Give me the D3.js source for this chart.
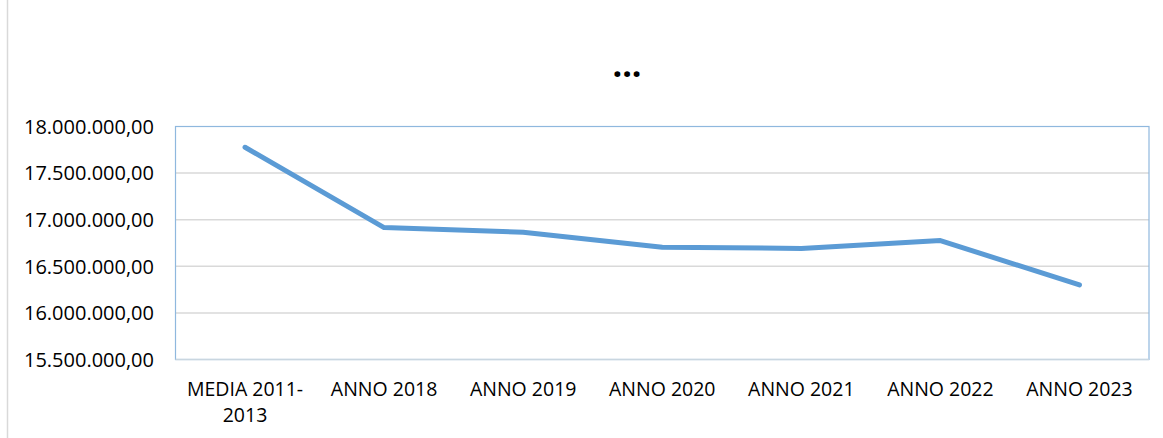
<!DOCTYPE html>
<html>
<head>
<meta charset="utf-8">
<script src="https://cdn.jsdelivr.net/npm/d3@7"></script>
<style>
  body { margin: 0; background: #fff; }
  text { font-family: "Open Sans", "Liberation Sans", sans-serif; fill: #000; }
</style>
</head>
<body>
<div id="chart"></div>
<script>
// chart data
const categories = ["MEDIA 2011-2013", "ANNO 2018", "ANNO 2019", "ANNO 2020", "ANNO 2021", "ANNO 2022", "ANNO 2023"];
const values = [17777000, 16915000, 16865000, 16705000, 16692000, 16776000, 16300000];
const yTicks = [15500000, 16000000, 16500000, 17000000, 17500000, 18000000];

const width = 1163, height = 438;
const margin = { top: 126.5, right: 14, bottom: 78.5, left: 175.5 };

const svg = d3.select("#chart")
    .append("svg")
    .attr("width", width)
    .attr("height", height);

// thin gray line at far left
svg.append("line")
    .attr("x1", 7.5).attr("x2", 7.5)
    .attr("y1", 0).attr("y2", height)
    .attr("stroke", "#d9d9d9").attr("stroke-width", 1.5);

const x = d3.scaleBand()
    .domain(categories)
    .range([margin.left, width - margin.right]);

const y = d3.scaleLinear()
    .domain([15500000, 18000000])
    .range([height - margin.bottom, margin.top]);

const fmt = v => d3.format(",.2f")(v).replace(/,/g, "#").replace(".", ",").replace(/#/g, ".");

// gridlines
svg.append("g")
    .selectAll("line")
    .data(yTicks.slice(1, -1))
    .join("line")
    .attr("x1", margin.left).attr("x2", width - margin.right)
    .attr("y1", d => y(d)).attr("y2", d => y(d))
    .attr("stroke", "#d9d9d9").attr("stroke-width", 1.5);

// plot border
svg.append("rect")
    .attr("x", margin.left).attr("y", margin.top)
    .attr("width", width - margin.left - margin.right)
    .attr("height", height - margin.top - margin.bottom)
    .attr("fill", "none")
    .attr("stroke", "#8fb8de").attr("stroke-width", 1.2);

svg.append("line")
    .attr("x1", margin.left).attr("x2", width - margin.right)
    .attr("y1", y(15500000)).attr("y2", y(15500000))
    .attr("stroke", "#c9d6e0").attr("stroke-width", 1.5);

// y tick labels
svg.append("g")
    .selectAll("text")
    .data(yTicks)
    .join("text")
    .attr("x", 154)
    .attr("y", d => y(d))
    .attr("dy", "0.36em")
    .attr("text-anchor", "end")
    .style("font-size", "20px")
    .text(fmt);

// x labels
const xl = svg.append("g")
    .selectAll("text")
    .data(categories)
    .join("text")
    .attr("x", d => x(d) + x.bandwidth() / 2)
    .attr("y", 396)
    .attr("text-anchor", "middle")
    .style("font-size", "19.5px");

xl.each(function (d) {
  const t = d3.select(this);
  if (d.startsWith("MEDIA")) {
    t.append("tspan").attr("x", x(d) + x.bandwidth() / 2).text("MEDIA 2011-");
    t.append("tspan").attr("x", x(d) + x.bandwidth() / 2).attr("dy", 26).text("2013");
  } else {
    t.text(d);
  }
});

// line
const line = d3.line()
    .x((d, i) => x(categories[i]) + x.bandwidth() / 2)
    .y(d => y(d));

svg.append("path")
    .datum(values)
    .attr("d", line)
    .attr("fill", "none")
    .attr("stroke", "#5b9bd5")
    .attr("stroke-width", 5)
    .attr("stroke-linecap", "round")
    .attr("stroke-linejoin", "round");

// title
svg.append("text")
    .attr("x", 627)
    .attr("y", 77)
    .attr("text-anchor", "middle")
    .style("font-size", "34px")
    .style("font-weight", "bold")
    .text("...");
</script>
</body>
</html>
